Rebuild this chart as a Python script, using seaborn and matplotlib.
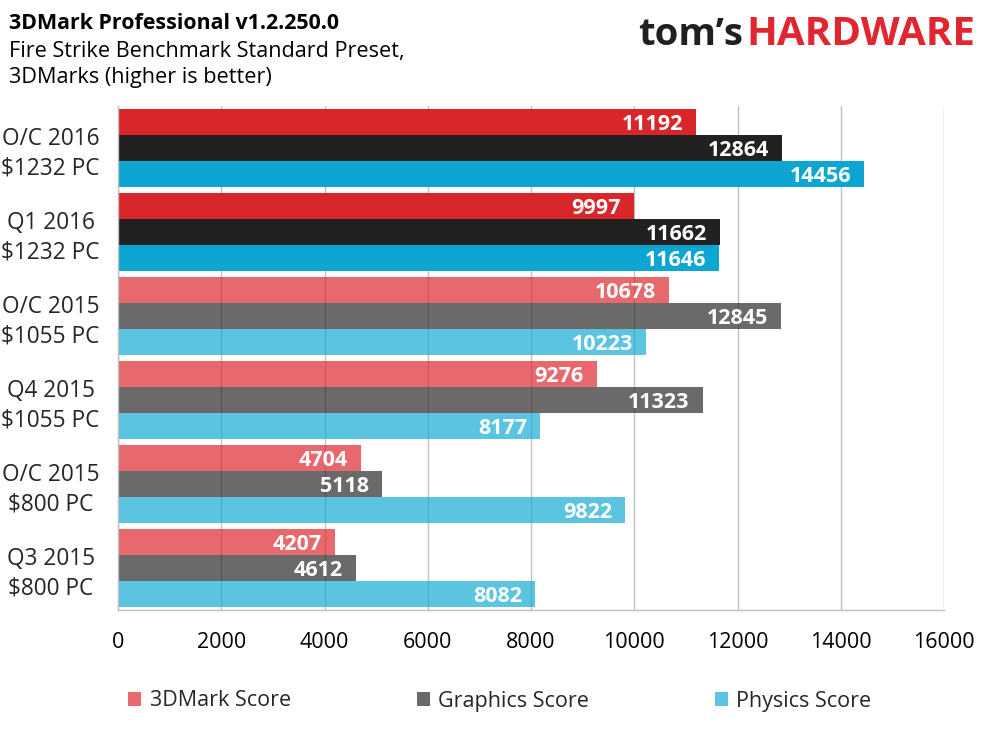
import numpy as np
import pandas as pd
import matplotlib
matplotlib.use("Agg")
import matplotlib.pyplot as plt
import matplotlib.colors as mcolors
from matplotlib.patches import Patch
from matplotlib.ticker import MultipleLocator, FixedLocator
import seaborn as sns

# data (top to bottom)
systems = ["O/C 2016\n$1232 PC", "Q1 2016\n$1232 PC", "O/C 2015\n$1055 PC",
           "Q4 2015\n$1055 PC", "O/C 2015\n$800 PC", "Q3 2015\n$800 PC"]
series = ["3DMark Score", "Graphics Score", "Physics Score"]
score_3dmark = [11192, 9997, 10678, 9276, 4704, 4207]
score_graphics = [12864, 11662, 12845, 11323, 5118, 4612]
score_physics = [14456, 11646, 10223, 8177, 9822, 8082]
x_ticks = [0, 2000, 4000, 6000, 8000, 10000, 12000, 14000, 16000]

dark_colors = ["#d9262a", "#222020", "#0da6d2"]   # 2016 systems
light_colors = ["#e86a6e", "#6b6969", "#5bc4e1"]  # 2015 systems
n_dark = 2
light_alpha = 0.7

df = pd.DataFrame({
    "system": np.repeat(systems, 3),
    "series": series * len(systems),
    "score": np.column_stack([score_3dmark, score_graphics, score_physics]).ravel(),
})

sns.set_style("white")
plt.rcParams["font.family"] = ["Open Sans", "DejaVu Sans"]

W, H = 989, 741
fig = plt.figure(figsize=(W / 100, H / 100), dpi=100)
ax = fig.add_axes([118 / W, 1 - 610 / H, 826 / W, 504 / H])

sns.barplot(data=df, y="system", x="score", hue="series", orient="h",
            order=systems, hue_order=series, palette=dark_colors,
            width=0.917, saturation=1, linewidth=0, legend=False, ax=ax)


def see_through(hex_color, alpha):
    """Colour that gives hex_color when drawn with alpha over white."""
    rgb = np.array(mcolors.to_rgb(hex_color))
    return tuple(np.clip((rgb - (1 - alpha)) / alpha, 0, 1))


for i, container in enumerate(ax.containers):
    for j, bar in enumerate(container):
        if j < n_dark:
            bar.set_facecolor(dark_colors[i])
        else:
            bar.set_facecolor(see_through(light_colors[i], light_alpha))
            bar.set_alpha(light_alpha)
        value = bar.get_width()
        ax.annotate(f"{value:.0f}", xy=(value, bar.get_y() + bar.get_height() / 2),
                    xytext=(-13, 0), textcoords="offset pixels",
                    ha="right", va="center_baseline", color="white",
                    fontsize=15.5, fontweight="bold")

ax.set_xlim(0, 16000)
ax.set_ylim(len(systems) - 0.5, -0.5)
ax.set_xticks(x_ticks)
ax.set_xticklabels([str(t) for t in x_ticks])
ax.xaxis.set_minor_locator(MultipleLocator(400))
ax.grid(axis="x", color="#c0c0c0", linewidth=1)
ax.set_axisbelow(True)
ax.set_xlabel("")
ax.set_ylabel("")

ax.tick_params(axis="x", which="major", length=0, pad=16, labelsize=15.5, colors="#000000")
ax.tick_params(axis="x", which="minor", direction="in", length=5, width=1, color="#c0c0c0")
ax.yaxis.set_minor_locator(FixedLocator(np.arange(-0.5, len(systems), 1.0)))
ax.tick_params(axis="y", which="minor", direction="out", length=8, width=1, color="#c0c0c0")
ax.tick_params(axis="y", which="major", length=0, pad=48.5, labelsize=16.3)
for lab in ax.get_yticklabels():
    lab.set_ha("center")
    lab.set_linespacing(1.3)

for side in ["top", "right"]:
    ax.spines[side].set_visible(False)
for side in ["left", "bottom"]:
    ax.spines[side].set_color("#c0c0c0")
    ax.spines[side].set_linewidth(1)

# titles
fig.text(9 / W, 1 - 29 / H, "3DMark Professional v1.2.250.0",
         fontsize=15.4, fontweight="bold", va="baseline", color="#000000")
fig.text(9 / W, 1 - 57 / H, "Fire Strike Benchmark Standard Preset,",
         fontsize=15.6, va="baseline", color="#000000")
fig.text(9 / W, 1 - 83 / H, "3DMarks (higher is better)",
         fontsize=15.6, va="baseline", color="#000000")

# logo
fig.text(975 / W, 1 - 45 / H, "HARDWARE", fontsize=29, fontweight="bold",
         color="#e0262e", ha="right", va="baseline")
fig.text(743 / W, 1 - 45 / H, "tom\u2019s", fontsize=27.5, fontweight="bold",
         color="#231f20", ha="right", va="baseline")

handles = [Patch(facecolor=c, edgecolor="none") for c in light_colors]
fig.legend(handles, series, loc="center left", bbox_to_anchor=(128 / W, 1 - 701 / H),
           ncol=3, frameon=False, fontsize=15.5, borderpad=0, borderaxespad=0,
           handlelength=0.6, handleheight=0.65, handletextpad=0.4, columnspacing=5.85)

fig.savefig("out.png", dpi=100)
